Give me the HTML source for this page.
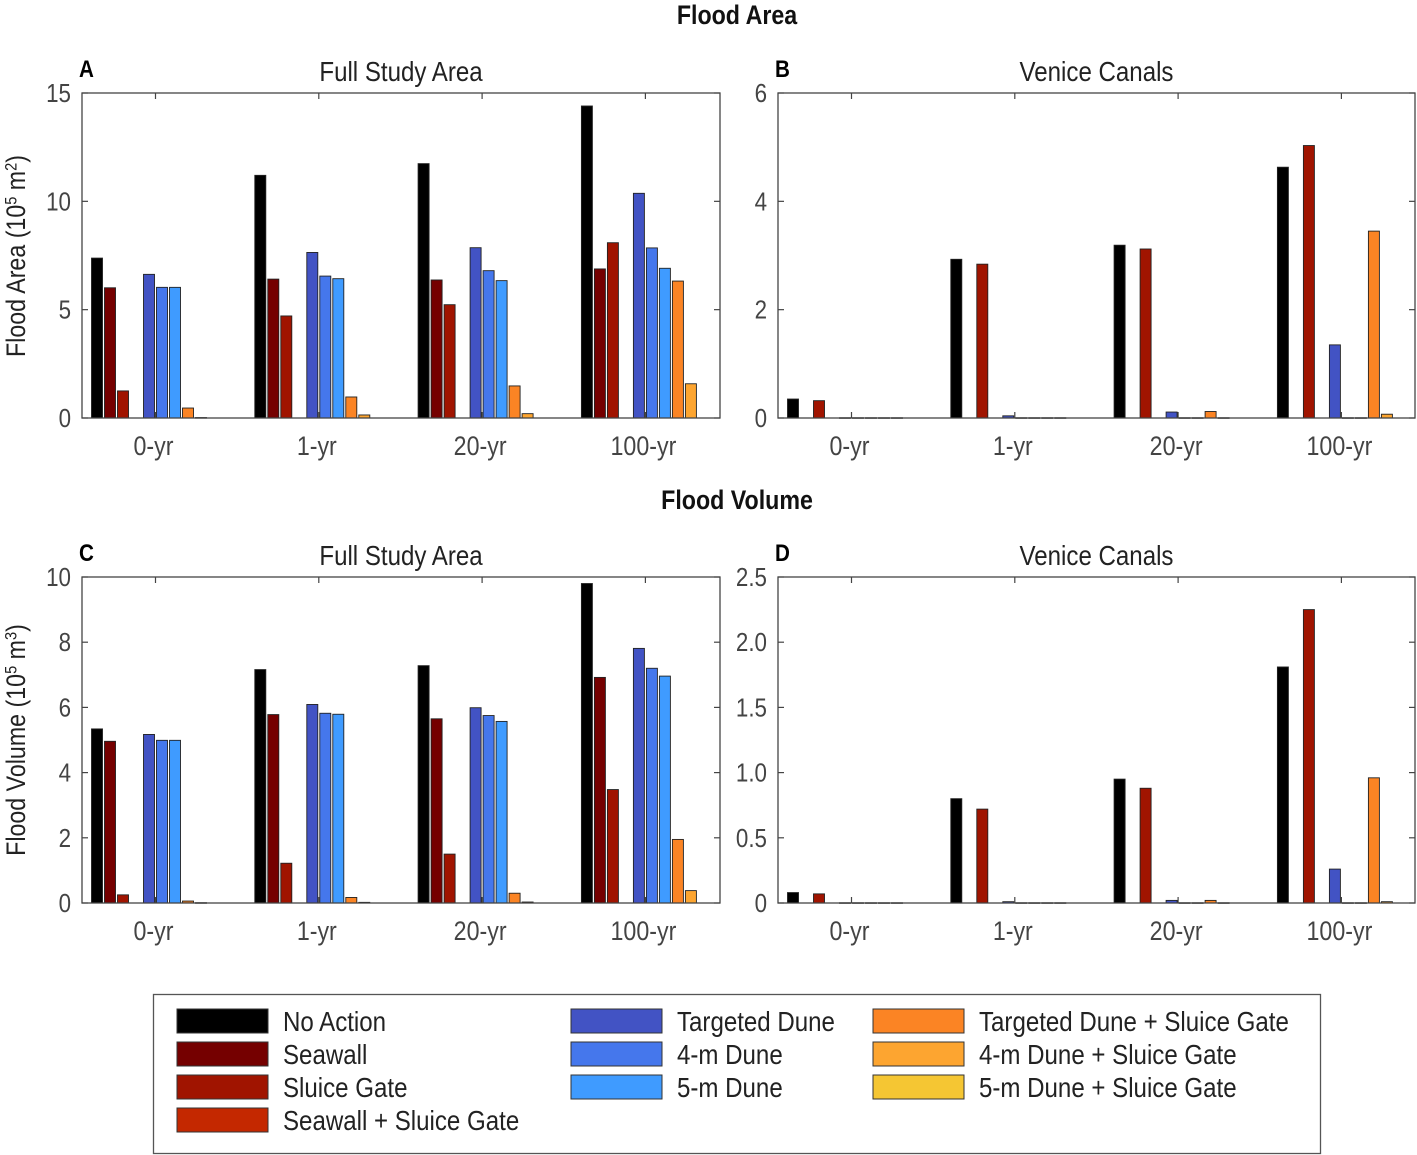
<!DOCTYPE html>
<html><head><meta charset="utf-8">
<style>
html,body{margin:0;padding:0;background:#fff;}
svg{display:block;font-family:"Liberation Sans Narrow","Liberation Sans",Arial,sans-serif;}
</style></head>
<body>
<svg id="chart" width="1417" height="1155" viewBox="0 0 1417 1155" xmlns="http://www.w3.org/2000/svg">
<g id="legend"></g>
</svg>
<script>
const categories = ["0-yr","1-yr","20-yr","100-yr"];
const seriesNames = ["No Action","Seawall","Sluice Gate","Seawall + Sluice Gate","Targeted Dune","4-m Dune","5-m Dune","Targeted Dune + Sluice Gate","4-m Dune + Sluice Gate","5-m Dune + Sluice Gate"];
const seriesColors = ["#000000","#750000","#a01400","#c42800","#4253c4","#4577ec","#3f9bff","#fb8424","#fda530","#f5c633"];
// values[group][series]
const areaFull = [
 [7.38,6.01,1.25,0,6.63,6.03,6.03,0.46,0.02,0],
 [11.2,6.41,4.71,0,7.64,6.55,6.43,0.97,0.14,0],
 [11.74,6.37,5.23,0,7.86,6.8,6.34,1.48,0.2,0],
 [14.4,6.88,8.09,0,10.37,7.85,6.91,6.32,1.58,0]
];
const areaVenice = [
 [0.35,0,0.32,0,0.005,0.005,0.005,0.005,0.005,0],
 [2.93,0,2.84,0,0.04,0.005,0.005,0.005,0.005,0],
 [3.19,0,3.12,0,0.11,0.005,0.005,0.12,0.005,0],
 [4.63,0,5.03,0,1.35,0.005,0.005,3.45,0.07,0]
];
const volFull = [
 [5.34,4.96,0.25,0,5.17,4.99,4.99,0.06,0.01,0],
 [7.16,5.78,1.22,0,6.09,5.82,5.79,0.17,0.02,0],
 [7.28,5.65,1.5,0,5.99,5.75,5.57,0.3,0.03,0],
 [9.8,6.92,3.48,0,7.81,7.2,6.96,1.95,0.38,0]
];
const volVenice = [
 [0.08,0,0.07,0,0.002,0.002,0.002,0.002,0.002,0],
 [0.8,0,0.72,0,0.01,0.002,0.002,0.002,0.002,0],
 [0.95,0,0.88,0,0.02,0.002,0.002,0.02,0.002,0],
 [1.81,0,2.25,0,0.26,0.002,0.002,0.96,0.01,0]
];
const ticksA = [0,5,10,15];
const ticksB = [0,2,4,6];
const ticksC = [0,2,4,6,8,10];
const ticksD = [0,0.5,1.0,1.5,2.0,2.5];
const tickLabelsD = ["0","0.5","1.0","1.5","2.0","2.5"];

const NS="http://www.w3.org/2000/svg";
const svg=document.getElementById('chart');
const SX=0.86;
function mk(tag,attrs,parent){const e=document.createElementNS(NS,tag);for(const k in attrs)e.setAttribute(k,attrs[k]);(parent||svg).appendChild(e);return e;}
function txt(x,y,s,attrs,parent,rot){
 const a=Object.assign({},attrs);
 a.x=0;a.y=0;
 a.transform=`translate(${x},${y})`+(rot?` rotate(${rot})`:'')+` scale(${SX},1)`;
 const t=mk('text',a,parent);
 if(s!==null)t.textContent=s;
 return t;
}

const tA=txt(737,24,"Flood Area",{'text-anchor':'middle','font-size':27,'font-weight':'bold',fill:"#111"});


const tV=txt(737,509,"Flood Volume",{'text-anchor':'middle','font-size':27,'font-weight':'bold',fill:"#111"});



const panels=[
 {id:"a",letter:"A",title:"Full Study Area",data:areaFull,ticks:ticksA,labels:ticksA.map(String),max:15,L:82,T:93,R:720,B:418,x0:155.5,sp:163.3},
 {id:"b",letter:"B",title:"Venice Canals",data:areaVenice,ticks:ticksB,labels:ticksB.map(String),max:6,L:778,T:93,R:1415,B:418,x0:851.5,sp:163.3},
 {id:"c",letter:"C",title:"Full Study Area",data:volFull,ticks:ticksC,labels:ticksC.map(String),max:10,L:82,T:577,R:720,B:903,x0:155.5,sp:163.3},
 {id:"d",letter:"D",title:"Venice Canals",data:volVenice,ticks:ticksD,labels:tickLabelsD,max:2.5,L:778,T:577,R:1415,B:903,x0:851.5,sp:163.3}
];
const step=13,bw=11;

panels.forEach(p=>{
 const g=mk('g',{});
 
 
 const y=v=>p.B-(v/p.max)*(p.B-p.T);
 const xc=i=>p.x0+i*p.sp;
 p.data.forEach((grp,gi)=>{
  grp.forEach((v,si)=>{
   if(v<=0)return;
   const x=xc(gi)-5*step+si*step+(step-bw)/2;
   const r=mk('rect',{x:x,y:y(v),width:bw,height:Math.max(p.B-y(v),0.6),fill:seriesColors[si],stroke:"#222",'stroke-width':0.9},g);
   
   
  });
 });
 const box=mk('rect',{x:p.L,y:p.T,width:p.R-p.L,height:p.B-p.T,fill:"none",stroke:"#444",'stroke-width':1.3},g);
 
 
 p.ticks.forEach((t,i)=>{
  const yy=y(t);
  mk('line',{x1:p.L,x2:p.L+6,y1:yy,y2:yy,stroke:"#444",'stroke-width':1.2},g);
  mk('line',{x1:p.R,x2:p.R-6,y1:yy,y2:yy,stroke:"#444",'stroke-width':1.2},g);
  const tx=txt(p.L-11,yy+9,p.labels[i],{'text-anchor':'end','font-size':26,fill:"#444"},g);
  
  
 });
 categories.forEach((c,i)=>{
  const xx=xc(i);
  mk('line',{x1:xx,x2:xx,y1:p.B,y2:p.B-6,stroke:"#444",'stroke-width':1.2},g);
  mk('line',{x1:xx,x2:xx,y1:p.T,y2:p.T+6,stroke:"#444",'stroke-width':1.2},g);
  const tx=txt(xx-2,p.B+37,c,{'text-anchor':'middle','font-size':27,fill:"#444"},g);
  
  
 });
 const tt=txt((p.L+p.R)/2,p.T-12,p.title,{'text-anchor':'middle','font-size':28,fill:"#222"},g);
 
 
 const lt=txt(p.L-3,p.T-16,p.letter,{'font-size':24,'font-weight':'bold',fill:"#000"},g);
 
 
});

function ytitle(cy,main,sup,name){
 const t=txt(25,cy,null,{'text-anchor':'middle','font-size':27,fill:"#222"},svg,-90);
 
 
 const a=mk('tspan',{},t);a.textContent=main;
 const b=mk('tspan',{'baseline-shift':'super','font-size':17},t);b.textContent="5";
 const c=mk('tspan',{},t);c.textContent=" m";
 const d=mk('tspan',{'baseline-shift':'super','font-size':17},t);d.textContent=sup;
 const e=mk('tspan',{},t);e.textContent=")";
}
ytitle(256,"Flood Area (10","2","y-axis-title-area");
ytitle(740,"Flood Volume (10","3","y-axis-title-volume");

const lg=document.getElementById('legend');
const lb=mk('rect',{x:153.5,y:994.5,width:1167,height:159,fill:"#fff",stroke:"#555",'stroke-width':1.3},lg);


const colX=[177,571,873];
const colIdx=[[0,1,2,3],[4,5,6],[7,8,9]];
colIdx.forEach((col,ci)=>{
 col.forEach((si,ri)=>{
  const yy=1009+ri*33;
  const sw=mk('rect',{x:colX[ci],y:yy,width:91,height:24,fill:seriesColors[si],stroke:"#333",'stroke-width':1},lg);
  
  
  const tx=txt(colX[ci]+106,yy+22,seriesNames[si],{'font-size':28,fill:"#222"},lg);
  
  
 });
});
</script>
</body></html>
